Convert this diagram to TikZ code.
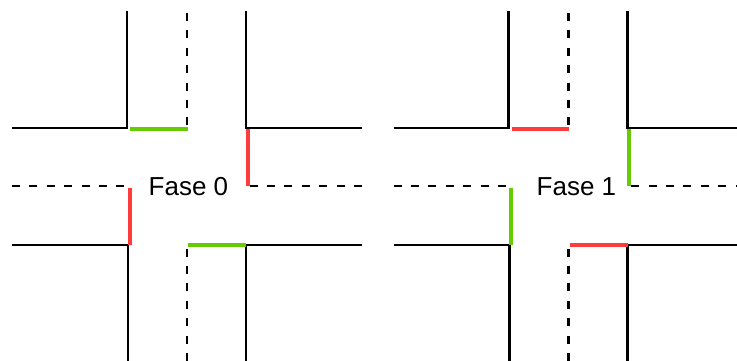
\documentclass[tikz,border=0pt]{standalone}
\usepackage{fontspec}
\setmainfont{Liberation Sans}
\definecolor{sigred}{RGB}{255,59,59}
\definecolor{siggreen}{RGB}{102,204,0}
\tikzset{
  road/.style={line width=2.2pt, black},
  lane/.style={line width=2.8pt, black, dash pattern=on 8pt off 9.4pt},
  light/.style={line width=4pt},
  lbl/.style={anchor=base west, inner sep=0pt, font=\fontsize{26}{30}\selectfont}
}
\newcommand\crossing[4]{%
  \begin{scope}[xshift=#1]
    % curbs
    \draw[road] (12,128) -- (127,128) -- (127,11);
    \draw[road] (246,11) -- (246,128) -- (362,128);
    \draw[road] (12,245) -- (128,245) -- (128,361);
    \draw[road] (246,361) -- (246,245) -- (362,245);
    % centre lines
    \draw[lane] (187,13) -- (187,128);
    \draw[lane] (187,361) -- (187,246);
    \draw[lane] (12,186) -- (127,186);
    \draw[lane] (362,186) -- (248,186);
    % stop lines
    \draw[light, #2] (130,128.5) -- (187.5,128.5);
    \draw[light, #2] (188,245) -- (246,245);
    \draw[light, #3] (247.5,129) -- (247.5,186);
    \draw[light, #3] (129.5,188) -- (129.5,245);
  \end{scope}
}
\begin{document}
\begin{tikzpicture}[x=1pt, y=-1pt]
  \useasboundingbox (0,0) rectangle (737,361);
  \clip (0,0) rectangle (737,361);
  \crossing{0pt}{siggreen}{sigred}{}
  \crossing{381.5pt}{sigred}{siggreen}{}
  \node[lbl] (f0) at (148.5,195) {Fase 0};
  \node[lbl] (f1) at (536.5,195) {Fase 1};
\end{tikzpicture}
\end{document}
